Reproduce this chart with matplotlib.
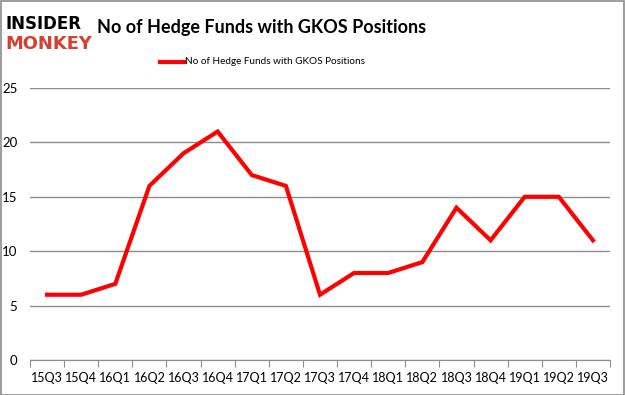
import numpy as np
import matplotlib
matplotlib.use("Agg")
import matplotlib.pyplot as plt
from matplotlib.patches import Rectangle
from matplotlib import font_manager

quarters = ["15Q3", "15Q4", "16Q1", "16Q2", "16Q3", "16Q4", "17Q1", "17Q2", "17Q3",
            "17Q4", "18Q1", "18Q2", "18Q3", "18Q4", "19Q1", "19Q2", "19Q3"]
funds = [6, 6, 7, 16, 19, 21, 17, 16, 6, 8, 8, 9, 14, 11, 15, 15, 11]
yticks = [0, 5, 10, 15, 20, 25]
series_name = "No of Hedge Funds with GKOS Positions"

names = {f.name for f in font_manager.fontManager.ttflist}
body_font = "Lato" if "Lato" in names else "DejaVu Sans"
logo_font = "Liberation Sans Narrow" if "Liberation Sans Narrow" in names else "DejaVu Sans"
plt.rcParams["font.family"] = [body_font, "DejaVu Sans"]

W, H = 625, 395
fig = plt.figure(figsize=(W / 100, H / 100), dpi=100)
fig.patch.set_facecolor("white")

# gray outer frame
fig.add_artist(Rectangle((0.5 / W, 0.5 / H), 1 - 1.5 / W, 1 - 1.5 / H, transform=fig.transFigure,
                         fill=False, edgecolor="#8c8c8c", linewidth=1.2))

left, right, top, bottom = 30, 610, 88, 360
ax = fig.add_axes([left / W, 1 - bottom / H, (right - left) / W, (bottom - top) / H])

x = np.arange(len(quarters))
ax.plot(x, funds, color="#ff0000", linewidth=3, solid_joinstyle="miter")

ax.set_xlim(-0.5, len(quarters) - 0.5)
ax.set_ylim(0, 25)
ax.set_yticks(yticks)
ax.set_yticklabels([str(v) for v in yticks], fontsize=9.5)
ax.yaxis.grid(True, color="#8c8c8c", linewidth=1)
ax.set_axisbelow(True)

ax.set_xticks(np.arange(-0.5, len(quarters), 1.0))
ax.set_xticklabels([])
ax.set_xticks(x, minor=True)
ax.set_xticklabels(quarters, minor=True, fontsize=9)
ax.tick_params(axis="x", which="major", length=5, color="#8c8c8c", direction="out")
ax.tick_params(axis="x", which="minor", length=0, pad=9)
ax.tick_params(axis="y", length=0, pad=9)

for s in ["top", "right", "left"]:
    ax.spines[s].set_visible(False)
ax.spines["bottom"].set_color("#8c8c8c")

renderer = fig.canvas.get_renderer()


def fit_text(xpx, ypx, s, width_px, size, **kw):
    t = fig.text(xpx / W, 1 - ypx / H, s, fontsize=size, **kw)
    w = t.get_window_extent(renderer).width
    t.set_fontsize(size * width_px / w)
    return t


# logo
fit_text(6, 29, "INSIDER", 76, 16, fontweight="bold", color="black",
         family=logo_font, va="baseline")
fit_text(5, 49, "MONKEY", 87, 16, fontweight="bold", color="#d6402e",
         family=logo_font, va="baseline")

# title
fit_text(97, 27, "No of Hedge Funds with GKOS Positions", 328, 15,
         fontweight="bold", color="black", va="center")

# legend
fig.add_artist(plt.Line2D([160 / W, 184 / W], [1 - 62 / H, 1 - 62 / H], color="#ff0000",
                          linewidth=3, transform=fig.transFigure))
fit_text(185, 62, series_name, 180, 9, va="center")

fig.savefig("out.png", dpi=100)
